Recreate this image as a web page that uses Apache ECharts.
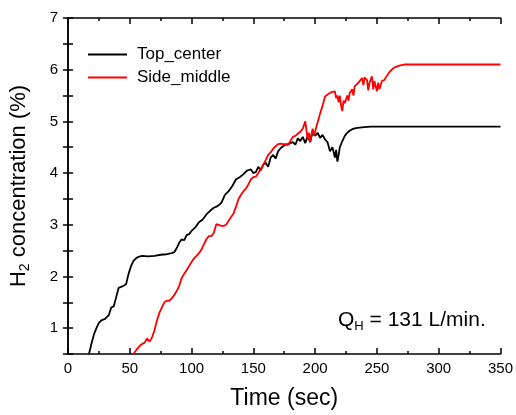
<!DOCTYPE html>
<html>
<head>
<meta charset="utf-8">
<script src="https://cdn.jsdelivr.net/npm/echarts@6/dist/echarts.min.js"></script>
<style>
  html, body { margin: 0; padding: 0; background: #fff; overflow: hidden; }
  #chart { width: 516px; height: 415px; }
</style>
</head>
<body>
<div id="chart"></div>
<script>
// Top_center sensor (black)
var topTime = [17, 19, 21, 23, 25, 27, 30, 33, 35, 37, 39, 41, 43, 45, 47, 49, 51, 53, 55, 57,
  60, 65, 70, 75, 80, 84, 86, 88, 90, 92, 94, 96, 98, 100, 103, 106, 109, 112, 115, 118,
  121, 124, 127, 130, 133, 136, 139, 142, 145, 148, 150, 152, 154, 156, 158, 160, 162, 164, 166, 168,
  170, 172, 174, 176, 178, 180, 182, 184, 186, 188, 190, 192, 194, 196, 198, 200, 202, 204, 206, 208,
  210, 212, 214, 216, 217, 218, 219, 220, 222, 224, 226, 228, 230, 233, 236, 240, 245, 250, 260, 280,
  300, 350];
var topConc = [0.5, 0.7, 0.88, 1.0, 1.1, 1.15, 1.18, 1.25, 1.4, 1.42, 1.6, 1.78, 1.8, 1.82, 1.85, 2.05, 2.2, 2.3, 2.35, 2.38,
  2.4, 2.39, 2.4, 2.42, 2.43, 2.45, 2.47, 2.55, 2.65, 2.72, 2.7, 2.8, 2.82, 2.88, 2.95, 3.05, 3.1, 3.2, 3.27, 3.33,
  3.36, 3.42, 3.58, 3.65, 3.75, 3.88, 3.92, 3.98, 4.05, 4.07, 4.0, 4.02, 4.12, 4.05, 4.16, 4.2, 4.12, 4.3, 4.35, 4.28,
  4.42, 4.48, 4.52, 4.55, 4.56, 4.58, 4.6, 4.55, 4.67, 4.62, 4.7, 4.58, 4.72, 4.6, 4.8, 4.72, 4.78, 4.68, 4.74, 4.65,
  4.6, 4.42, 4.5, 4.3, 4.45, 4.22, 4.35, 4.5, 4.62, 4.72, 4.78, 4.82, 4.85, 4.87, 4.88, 4.89, 4.9, 4.9, 4.9, 4.9,
  4.9, 4.9];

// Side_middle sensor (red)
var sideTime = [53, 56, 59, 62, 64, 66, 68, 70, 72, 74, 76, 78, 80, 82, 84, 86, 88, 90, 92, 94,
  96, 98, 100, 102, 104, 106, 108, 110, 112, 114, 116, 118, 120, 122, 124, 126, 128, 130, 132, 134,
  136, 138, 140, 142, 144, 146, 148, 150, 152, 154, 156, 158, 160, 162, 164, 166, 168, 170, 172, 174,
  176, 178, 180, 182, 184, 186, 188, 190, 192, 193, 194, 195, 196, 197, 198, 199, 200, 202, 204, 206,
  208, 210, 212, 214, 216, 217, 218, 219, 220, 221, 222, 223, 224, 226, 227, 228, 230, 231, 232, 234,
  236, 238, 239, 240, 242, 243, 244, 246, 247, 248, 250, 251, 252, 254, 256, 258, 260, 262, 264, 266,
  268, 272, 280, 350];
var sideConc = [0.5, 0.6, 0.68, 0.72, 0.8, 0.74, 0.82, 0.96, 1.15, 1.3, 1.4, 1.5, 1.53, 1.53, 1.58, 1.64, 1.72, 1.82, 1.97, 2.05,
  2.12, 2.2, 2.28, 2.35, 2.4, 2.45, 2.52, 2.62, 2.72, 2.78, 2.78, 2.84, 3.01, 3.0, 2.98, 2.98, 3.0, 3.08, 3.15, 3.22,
  3.35, 3.5, 3.58, 3.65, 3.7, 3.78, 3.88, 3.92, 3.93, 4.0, 4.08, 4.16, 4.25, 4.35, 4.4, 4.47, 4.52, 4.56, 4.57, 4.56,
  4.56, 4.54, 4.62, 4.7, 4.72, 4.76, 4.8, 4.86, 5.0, 4.82, 4.65, 4.78, 4.6, 4.75, 4.86, 4.72, 4.75, 4.98, 5.15, 5.3,
  5.48, 5.52, 5.55, 5.57, 5.58, 5.45, 5.5, 5.37, 5.5, 5.3, 5.2, 5.4, 5.35, 5.5, 5.4, 5.55, 5.62, 5.5, 5.68, 5.72,
  5.78, 5.84, 5.7, 5.85, 5.8, 5.6, 5.75, 5.87, 5.62, 5.78, 5.58, 5.75, 5.62, 5.78, 5.8, 5.88, 5.95, 6.0, 6.04, 6.06,
  6.08, 6.1, 6.1, 6.1];

var xTicks = [0, 50, 100, 150, 200, 250, 300, 350];
var yTicks = [1, 2, 3, 4, 5, 6, 7];

function pairs(ts, vs) {
  var out = [];
  for (var i = 0; i < ts.length; i++) {
    out.push([ts[i], vs[i]]);
  }
  return out;
}

var font = 'Liberation Sans, Arial, sans-serif';
var chart = echarts.init(document.getElementById('chart'), null, { renderer: 'canvas', width: 516, height: 415 });

var tickStyle = { inside: true, length: 6, lineStyle: { color: '#000', width: 1.5 } };
var minorStyle = { show: true, splitNumber: 2, length: 3, lineStyle: { color: '#000', width: 1.5 } };

var option = {
  backgroundColor: '#fff',
  animation: false,
  grid: { left: 66, top: 18, width: 437, height: 340, containLabel: false },
  legend: {
    orient: 'vertical',
    left: 83,
    top: 41,
    icon: 'rect',
    itemWidth: 39,
    itemHeight: 2,
    itemGap: 6,
    textStyle: { fontFamily: font, fontSize: 17, color: '#000', padding: [0, 0, 0, 5] },
    data: ['Top_center', 'Side_middle']
  },
  xAxis: [{
    type: 'value',
    min: 0,
    max: 350,
    interval: 50,
    name: 'Time (sec)',
    nameLocation: 'middle',
    nameGap: 33,
    nameTextStyle: { fontFamily: font, fontSize: 23, color: '#000' },
    axisLine: { lineStyle: { color: '#000', width: 1.5 } },
    axisTick: tickStyle,
    minorTick: minorStyle,
    axisLabel: {
      fontFamily: font, fontSize: 15, color: '#000', margin: 7,
      formatter: function (v) { return xTicks.indexOf(v) >= 0 ? String(v) : ''; }
    },
    splitLine: { show: false }
  }, {
    type: 'value',
    position: 'top',
    min: 0,
    max: 350,
    interval: 50,
    axisLine: { show: true, lineStyle: { color: '#000', width: 1.5 } },
    axisTick: tickStyle,
    minorTick: minorStyle,
    axisLabel: { show: false },
    splitLine: { show: false }
  }],
  yAxis: [{
    type: 'value',
    min: 0.5,
    max: 7,
    interval: 0.5,
    name: '{a|H}{b|2}{a| concentration (%)}',
    nameLocation: 'middle',
    nameGap: 36,
    nameRotate: 90,
    nameTextStyle: {
      fontFamily: font, color: '#000',
      rich: {
        a: { fontFamily: font, fontSize: 22, color: '#000', lineHeight: 26 },
        b: { fontFamily: font, fontSize: 14, color: '#000', lineHeight: 14, verticalAlign: 'bottom' }
      }
    },
    axisLine: { lineStyle: { color: '#000', width: 1.5 } },
    axisTick: { inside: true, length: 5, lineStyle: { color: '#000', width: 1.5 } },
    axisLabel: {
      fontFamily: font, fontSize: 15, color: '#000', margin: 10,
      formatter: function (v) { return yTicks.indexOf(v) >= 0 ? String(v) : ''; }
    },
    splitLine: { show: false }
  }, {
    type: 'value',
    position: 'right',
    min: 0.5,
    max: 7,
    interval: 0.5,
    axisLine: { show: true, lineStyle: { color: '#000', width: 1.5 } },
    axisTick: { inside: true, length: 5, lineStyle: { color: '#000', width: 1.5 } },
    axisLabel: { show: false },
    splitLine: { show: false }
  }],
  graphic: [{
    type: 'text',
    left: 338,
    top: 310,
    style: {
      text: '{q|Q}{s|H}{q| = 131 L/min.}',
      fill: '#000',
      rich: {
        q: { fontFamily: font, fontSize: 21, lineHeight: 24 },
        s: { fontFamily: font, fontSize: 13, lineHeight: 13, verticalAlign: 'bottom' }
      }
    }
  }],
  series: [{
    name: 'Top_center',
    type: 'line',
    xAxisIndex: 0,
    yAxisIndex: 0,
    symbol: 'none',
    clip: true,
    lineStyle: { color: '#000', width: 1.8 },
    itemStyle: { color: '#000' },
    data: pairs(topTime, topConc)
  }, {
    name: 'Side_middle',
    type: 'line',
    xAxisIndex: 0,
    yAxisIndex: 0,
    symbol: 'none',
    clip: true,
    lineStyle: { color: '#ff0000', width: 1.8 },
    itemStyle: { color: '#ff0000' },
    data: pairs(sideTime, sideConc)
  }]
};

chart.setOption(option);
</script>
</body>
</html>
